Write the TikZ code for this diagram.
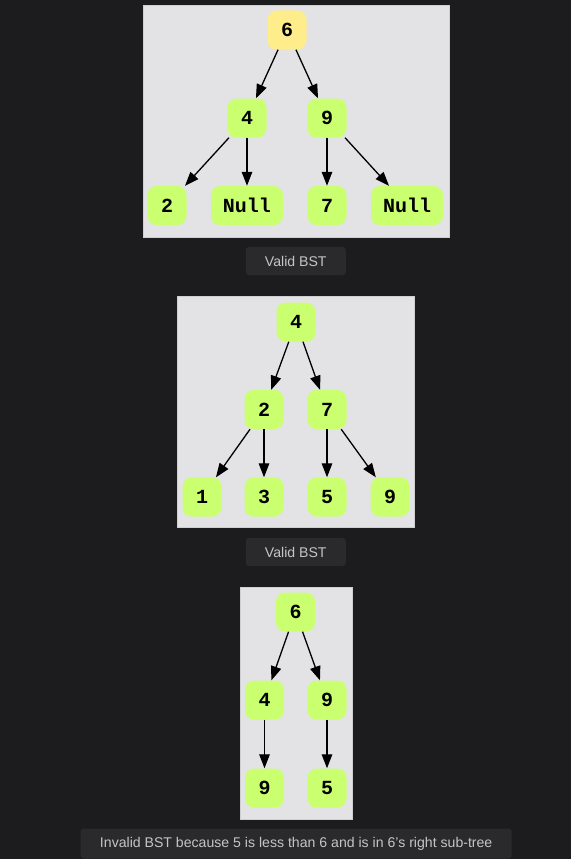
\documentclass[tikz,border=0pt]{standalone}
\usepackage{fontspec}
\setmainfont{Liberation Sans}
\setmonofont{Liberation Mono}
\usetikzlibrary{arrows.meta}
\definecolor{bg}{HTML}{1C1C1E}
\definecolor{panelbg}{HTML}{E3E3E5}
\definecolor{panelline}{HTML}{CFCFD2}
\definecolor{leafgreen}{HTML}{CAFF70}
\definecolor{rootyellow}{HTML}{FFEC8B}
\definecolor{capbg}{HTML}{2A2A2D}
\definecolor{captext}{HTML}{C5C5C8}
\tikzset{
  tn/.style={rounded corners=9pt, fill=leafgreen, minimum width=39pt, minimum height=39pt,
    inner sep=0pt, font=\ttfamily\bfseries\fontsize{20}{20}\selectfont},
  wide/.style={minimum width=72pt},
  edge/.style={line width=1.3pt, -{Triangle[length=14pt,width=10.5pt]}},
  capbox/.style={fill=capbg, rounded corners=3pt, text=captext, inner sep=0pt,
    font=\fontsize{14.1}{16}\selectfont},
  panel/.style={fill=panelbg, draw=panelline, line width=0.6pt}
}
\begin{document}
\begin{tikzpicture}[x=1pt,y=-1pt]
\useasboundingbox[fill=bg] (0,0) rectangle (571,859);
% panels
\draw[panel] (143,5) rectangle (449,237);
\draw[panel] (177,296) rectangle (414,527);
\draw[panel] (240,587) rectangle (352,819);
% tree 1
\node[tn, fill=rootyellow] (a6) at (287,30) {6};
\node[tn] (a4) at (247,118) {4};
\node[tn] (a9) at (327,118) {9};
\node[tn] (a2) at (167,205.5) {2};
\node[tn, wide] (an1) at (247,205.5) {Null};
\node[tn] (a7) at (327,205.5) {7};
\node[tn, wide] (an2) at (407,205.5) {Null};
\draw[edge] (a6) -- (a4);
\draw[edge] (a6) -- (a9);
\draw[edge] (a4) -- (a2);
\draw[edge] (a4) -- (an1);
\draw[edge] (a9) -- (a7);
\draw[edge] (a9) -- (an2);
\node[capbox, minimum width=100pt, minimum height=28pt] (c1) at (295.8,261) {Valid BST};
% tree 2
\node[tn] (b4) at (296,322) {4};
\node[tn] (b2) at (264,409.5) {2};
\node[tn] (b7) at (327,409.5) {7};
\node[tn] (b1) at (202,497) {1};
\node[tn] (b3) at (264,497) {3};
\node[tn] (b5) at (327,497) {5};
\node[tn] (b9) at (390,497) {9};
\draw[edge] (b4) -- (b2);
\draw[edge] (b4) -- (b7);
\draw[edge] (b2) -- (b1);
\draw[edge] (b2) -- (b3);
\draw[edge] (b7) -- (b5);
\draw[edge] (b7) -- (b9);
\node[capbox, minimum width=100pt, minimum height=28pt] (c2) at (295.8,552) {Valid BST};
% tree 3
\node[tn] (d6) at (295.5,612) {6};
\node[tn] (d4) at (264.5,700) {4};
\node[tn] (d9) at (327,700) {9};
\node[tn] (d9b) at (264.5,788) {9};
\node[tn] (d5) at (327,788) {5};
\draw[edge] (d6) -- (d4);
\draw[edge] (d6) -- (d9);
\draw[edge] (d4) -- (d9b);
\draw[edge] (d9) -- (d5);
\node[capbox, minimum width=431pt, minimum height=30pt] (c3) at (296.2,843.5) {Invalid BST because 5 is less than 6 and is in 6's right sub-tree};
\end{tikzpicture}
\end{document}
